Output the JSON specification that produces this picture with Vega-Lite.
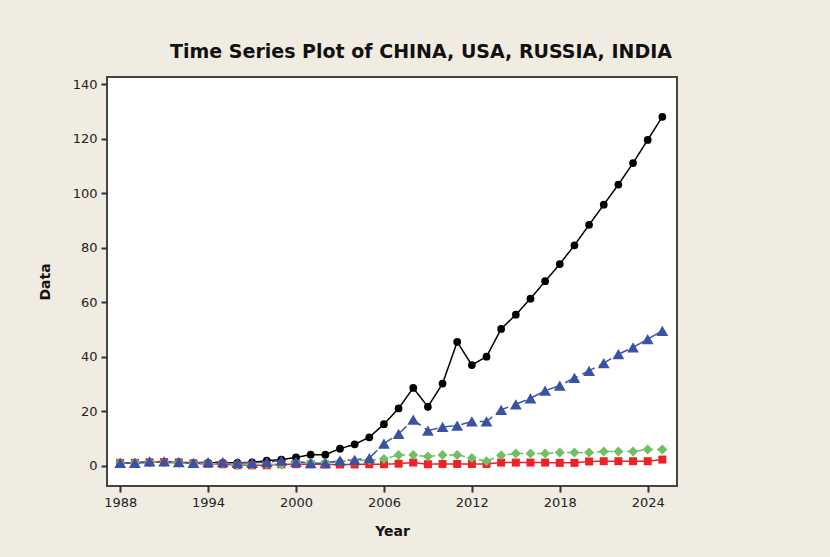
{
  "$schema": "https://vega.github.io/schema/vega-lite/v6.json",
  "width": 570,
  "height": 409,
  "autosize": {"type": "none"},
  "padding": {"left": 107, "top": 77, "right": 153, "bottom": 71},
  "background": "#f0ece1",
  "title": {
    "text": "Time Series Plot of CHINA, USA, RUSSIA, INDIA",
    "font": "DejaVu Sans", "fontSize": 19, "fontWeight": "bold", "color": "#111",
    "anchor": "middle", "frame": "group", "dx": 29, "offset": 0, "baseline": "alphabetic"
  },
  "config": {
    "view": {"stroke": "#444", "strokeWidth": 2, "fill": "white"},
    "axis": {
      "grid": false, "domain": false,
      "tickColor": "#333", "tickWidth": 2, "tickSize": 6,
      "labelFont": "DejaVu Sans", "labelFontSize": 13, "labelColor": "#222",
      "titleFont": "DejaVu Sans", "titleFontSize": 14, "titleFontWeight": "bold", "titleColor": "#111"
    },
    "legend": {
      "orient": "right", "offset": 19, "padding": 9,
      "strokeColor": "#222", "fillColor": "white",
      "titleFont": "DejaVu Sans", "titleFontSize": 10, "titleFontWeight": "normal", "titleColor": "#222",
      "titleAnchor": "end", "titlePadding": 11,
      "labelFont": "DejaVu Sans", "labelFontSize": 10.5, "labelColor": "#222",
      "symbolSize": 90, "symbolOffset": 14, "labelOffset": 23, "rowPadding": 6.3
    }
  },
  "data": {"values": [
    {"Year":1988,"Variable":"CHINA","Data":1.0},{"Year":1989,"Variable":"CHINA","Data":1.0},{"Year":1990,"Variable":"CHINA","Data":1.2},{"Year":1991,"Variable":"CHINA","Data":1.2},{"Year":1992,"Variable":"CHINA","Data":1.1},{"Year":1993,"Variable":"CHINA","Data":1.0},{"Year":1994,"Variable":"CHINA","Data":1.0},{"Year":1995,"Variable":"CHINA","Data":1.0},{"Year":1996,"Variable":"CHINA","Data":1.0},{"Year":1997,"Variable":"CHINA","Data":1.2},{"Year":1998,"Variable":"CHINA","Data":1.8},{"Year":1999,"Variable":"CHINA","Data":2.2},{"Year":2000,"Variable":"CHINA","Data":3.0},{"Year":2001,"Variable":"CHINA","Data":4.0},{"Year":2002,"Variable":"CHINA","Data":4.0},{"Year":2003,"Variable":"CHINA","Data":6.2},{"Year":2004,"Variable":"CHINA","Data":7.8},{"Year":2005,"Variable":"CHINA","Data":10.4},{"Year":2006,"Variable":"CHINA","Data":15.2},{"Year":2007,"Variable":"CHINA","Data":21.0},{"Year":2008,"Variable":"CHINA","Data":28.5},{"Year":2009,"Variable":"CHINA","Data":21.6},{"Year":2010,"Variable":"CHINA","Data":30.1},{"Year":2011,"Variable":"CHINA","Data":45.4},{"Year":2012,"Variable":"CHINA","Data":36.9},{"Year":2013,"Variable":"CHINA","Data":40.0},{"Year":2014,"Variable":"CHINA","Data":50.2},{"Year":2015,"Variable":"CHINA","Data":55.4},{"Year":2016,"Variable":"CHINA","Data":61.3},{"Year":2017,"Variable":"CHINA","Data":67.7},{"Year":2018,"Variable":"CHINA","Data":74.0},{"Year":2019,"Variable":"CHINA","Data":80.9},{"Year":2020,"Variable":"CHINA","Data":88.4},{"Year":2021,"Variable":"CHINA","Data":95.8},{"Year":2022,"Variable":"CHINA","Data":103.2},{"Year":2023,"Variable":"CHINA","Data":111.1},{"Year":2024,"Variable":"CHINA","Data":119.6},{"Year":2025,"Variable":"CHINA","Data":128.1},
    {"Year":1988,"Variable":"USA","Data":1.0},{"Year":1989,"Variable":"USA","Data":1.0},{"Year":1990,"Variable":"USA","Data":1.2},{"Year":1991,"Variable":"USA","Data":1.3},{"Year":1992,"Variable":"USA","Data":1.2},{"Year":1993,"Variable":"USA","Data":0.8},{"Year":1994,"Variable":"USA","Data":0.6},{"Year":1995,"Variable":"USA","Data":0.5},{"Year":1996,"Variable":"USA","Data":0.1},{"Year":1997,"Variable":"USA","Data":0.1},{"Year":1998,"Variable":"USA","Data":0.1},{"Year":1999,"Variable":"USA","Data":0.5},{"Year":2000,"Variable":"USA","Data":0.5},{"Year":2001,"Variable":"USA","Data":0.5},{"Year":2002,"Variable":"USA","Data":0.4},{"Year":2003,"Variable":"USA","Data":0.4},{"Year":2004,"Variable":"USA","Data":0.4},{"Year":2005,"Variable":"USA","Data":0.5},{"Year":2006,"Variable":"USA","Data":0.5},{"Year":2007,"Variable":"USA","Data":0.7},{"Year":2008,"Variable":"USA","Data":1.1},{"Year":2009,"Variable":"USA","Data":0.5},{"Year":2010,"Variable":"USA","Data":0.6},{"Year":2011,"Variable":"USA","Data":0.6},{"Year":2012,"Variable":"USA","Data":0.6},{"Year":2013,"Variable":"USA","Data":0.6},{"Year":2014,"Variable":"USA","Data":1.1},{"Year":2015,"Variable":"USA","Data":1.1},{"Year":2016,"Variable":"USA","Data":1.1},{"Year":2017,"Variable":"USA","Data":1.1},{"Year":2018,"Variable":"USA","Data":1.0},{"Year":2019,"Variable":"USA","Data":1.0},{"Year":2020,"Variable":"USA","Data":1.5},{"Year":2021,"Variable":"USA","Data":1.6},{"Year":2022,"Variable":"USA","Data":1.6},{"Year":2023,"Variable":"USA","Data":1.6},{"Year":2024,"Variable":"USA","Data":1.6},{"Year":2025,"Variable":"USA","Data":2.2},
    {"Year":1988,"Variable":"RUSSIA","Data":1.0},{"Year":1989,"Variable":"RUSSIA","Data":1.0},{"Year":1990,"Variable":"RUSSIA","Data":1.2},{"Year":1991,"Variable":"RUSSIA","Data":1.2},{"Year":1992,"Variable":"RUSSIA","Data":1.0},{"Year":1993,"Variable":"RUSSIA","Data":0.8},{"Year":1994,"Variable":"RUSSIA","Data":0.8},{"Year":1995,"Variable":"RUSSIA","Data":0.6},{"Year":1996,"Variable":"RUSSIA","Data":0.3},{"Year":1997,"Variable":"RUSSIA","Data":0.3},{"Year":1998,"Variable":"RUSSIA","Data":0.5},{"Year":1999,"Variable":"RUSSIA","Data":0.4},{"Year":2000,"Variable":"RUSSIA","Data":1.0},{"Year":2001,"Variable":"RUSSIA","Data":1.0},{"Year":2002,"Variable":"RUSSIA","Data":1.0},{"Year":2003,"Variable":"RUSSIA","Data":1.5},{"Year":2004,"Variable":"RUSSIA","Data":1.8},{"Year":2005,"Variable":"RUSSIA","Data":2.0},{"Year":2006,"Variable":"RUSSIA","Data":2.4},{"Year":2007,"Variable":"RUSSIA","Data":3.9},{"Year":2008,"Variable":"RUSSIA","Data":3.9},{"Year":2009,"Variable":"RUSSIA","Data":3.3},{"Year":2010,"Variable":"RUSSIA","Data":3.9},{"Year":2011,"Variable":"RUSSIA","Data":3.9},{"Year":2012,"Variable":"RUSSIA","Data":2.8},{"Year":2013,"Variable":"RUSSIA","Data":1.6},{"Year":2014,"Variable":"RUSSIA","Data":3.8},{"Year":2015,"Variable":"RUSSIA","Data":4.4},{"Year":2016,"Variable":"RUSSIA","Data":4.4},{"Year":2017,"Variable":"RUSSIA","Data":4.4},{"Year":2018,"Variable":"RUSSIA","Data":4.8},{"Year":2019,"Variable":"RUSSIA","Data":4.8},{"Year":2020,"Variable":"RUSSIA","Data":4.8},{"Year":2021,"Variable":"RUSSIA","Data":5.2},{"Year":2022,"Variable":"RUSSIA","Data":5.2},{"Year":2023,"Variable":"RUSSIA","Data":5.2},{"Year":2024,"Variable":"RUSSIA","Data":5.9},{"Year":2025,"Variable":"RUSSIA","Data":5.9},
    {"Year":1988,"Variable":"INDIA","Data":1.0},{"Year":1989,"Variable":"INDIA","Data":1.0},{"Year":1990,"Variable":"INDIA","Data":1.5},{"Year":1991,"Variable":"INDIA","Data":1.5},{"Year":1992,"Variable":"INDIA","Data":1.3},{"Year":1993,"Variable":"INDIA","Data":1.0},{"Year":1994,"Variable":"INDIA","Data":1.3},{"Year":1995,"Variable":"INDIA","Data":1.3},{"Year":1996,"Variable":"INDIA","Data":1.0},{"Year":1997,"Variable":"INDIA","Data":1.0},{"Year":1998,"Variable":"INDIA","Data":1.3},{"Year":1999,"Variable":"INDIA","Data":1.8},{"Year":2000,"Variable":"INDIA","Data":1.4},{"Year":2001,"Variable":"INDIA","Data":0.9},{"Year":2002,"Variable":"INDIA","Data":0.9},{"Year":2003,"Variable":"INDIA","Data":1.8},{"Year":2004,"Variable":"INDIA","Data":2.1},{"Year":2005,"Variable":"INDIA","Data":2.7},{"Year":2006,"Variable":"INDIA","Data":8.1},{"Year":2007,"Variable":"INDIA","Data":11.6},{"Year":2008,"Variable":"INDIA","Data":16.9},{"Year":2009,"Variable":"INDIA","Data":12.8},{"Year":2010,"Variable":"INDIA","Data":14.2},{"Year":2011,"Variable":"INDIA","Data":14.7},{"Year":2012,"Variable":"INDIA","Data":16.2},{"Year":2013,"Variable":"INDIA","Data":16.2},{"Year":2014,"Variable":"INDIA","Data":20.5},{"Year":2015,"Variable":"INDIA","Data":22.5},{"Year":2016,"Variable":"INDIA","Data":24.7},{"Year":2017,"Variable":"INDIA","Data":27.5},{"Year":2018,"Variable":"INDIA","Data":29.4},{"Year":2019,"Variable":"INDIA","Data":32.2},{"Year":2020,"Variable":"INDIA","Data":34.8},{"Year":2021,"Variable":"INDIA","Data":37.6},{"Year":2022,"Variable":"INDIA","Data":40.9},{"Year":2023,"Variable":"INDIA","Data":43.4},{"Year":2024,"Variable":"INDIA","Data":46.4},{"Year":2025,"Variable":"INDIA","Data":49.5}
  ]},
  "encoding": {
    "x": {"field": "Year", "type": "quantitative",
      "scale": {"domain": [1987.1, 2026], "nice": false, "zero": false},
      "axis": {"values": [1988, 1994, 2000, 2006, 2012, 2018, 2024], "format": "d", "title": "Year", "labelPadding": 4, "titlePadding": 15}},
    "y": {"field": "Data", "type": "quantitative",
      "scale": {"domain": [-7.5, 142.7], "nice": false, "zero": false},
      "axis": {"values": [0, 20, 40, 60, 80, 100, 120, 140], "title": "Data", "labelPadding": 4, "titlePadding": 20}},
    "color": {"field": "Variable", "type": "nominal", "title": "Variable",
      "scale": {"domain": ["CHINA", "USA", "RUSSIA", "INDIA"], "range": ["#000000", "#ec2227", "#6fbf63", "#3a52a4"]}}
  },
  "layer": [
    {
      "mark": {"type": "line", "strokeWidth": 1.5},
      "encoding": {
        "strokeDash": {"field": "Variable", "type": "nominal",
          "scale": {"domain": ["CHINA", "USA", "RUSSIA", "INDIA"], "range": [[1, 0], [1, 0], [6, 4], [14, 5]]},
          "legend": null}
      }
    },
    {
      "transform": [{"filter": "datum.Variable === 'CHINA'"}],
      "mark": {"type": "point", "filled": true, "opacity": 1, "size": 60},
      "encoding": {
        "shape": {"field": "Variable", "type": "nominal", "title": "Variable",
          "scale": {"domain": ["CHINA", "USA", "RUSSIA", "INDIA"], "range": ["circle", "square", "diamond", "triangle-up"]}}
      }
    },
    {
      "transform": [{"filter": "datum.Variable === 'USA'"}],
      "mark": {"type": "point", "filled": true, "opacity": 1, "size": 64},
      "encoding": {
        "shape": {"field": "Variable", "type": "nominal", "title": "Variable",
          "scale": {"domain": ["CHINA", "USA", "RUSSIA", "INDIA"], "range": ["circle", "square", "diamond", "triangle-up"]}}
      }
    },
    {
      "transform": [{"filter": "datum.Variable === 'RUSSIA'"}],
      "mark": {"type": "point", "filled": true, "opacity": 1, "size": 100},
      "encoding": {
        "shape": {"field": "Variable", "type": "nominal", "title": "Variable",
          "scale": {"domain": ["CHINA", "USA", "RUSSIA", "INDIA"], "range": ["circle", "square", "diamond", "triangle-up"]}}
      }
    },
    {
      "transform": [{"filter": "datum.Variable === 'INDIA'"}],
      "mark": {"type": "point", "filled": true, "opacity": 1, "size": 140},
      "encoding": {
        "shape": {"field": "Variable", "type": "nominal", "title": "Variable",
          "scale": {"domain": ["CHINA", "USA", "RUSSIA", "INDIA"], "range": ["circle", "square", "diamond", "triangle-up"]}}
      }
    }
  ]
}
